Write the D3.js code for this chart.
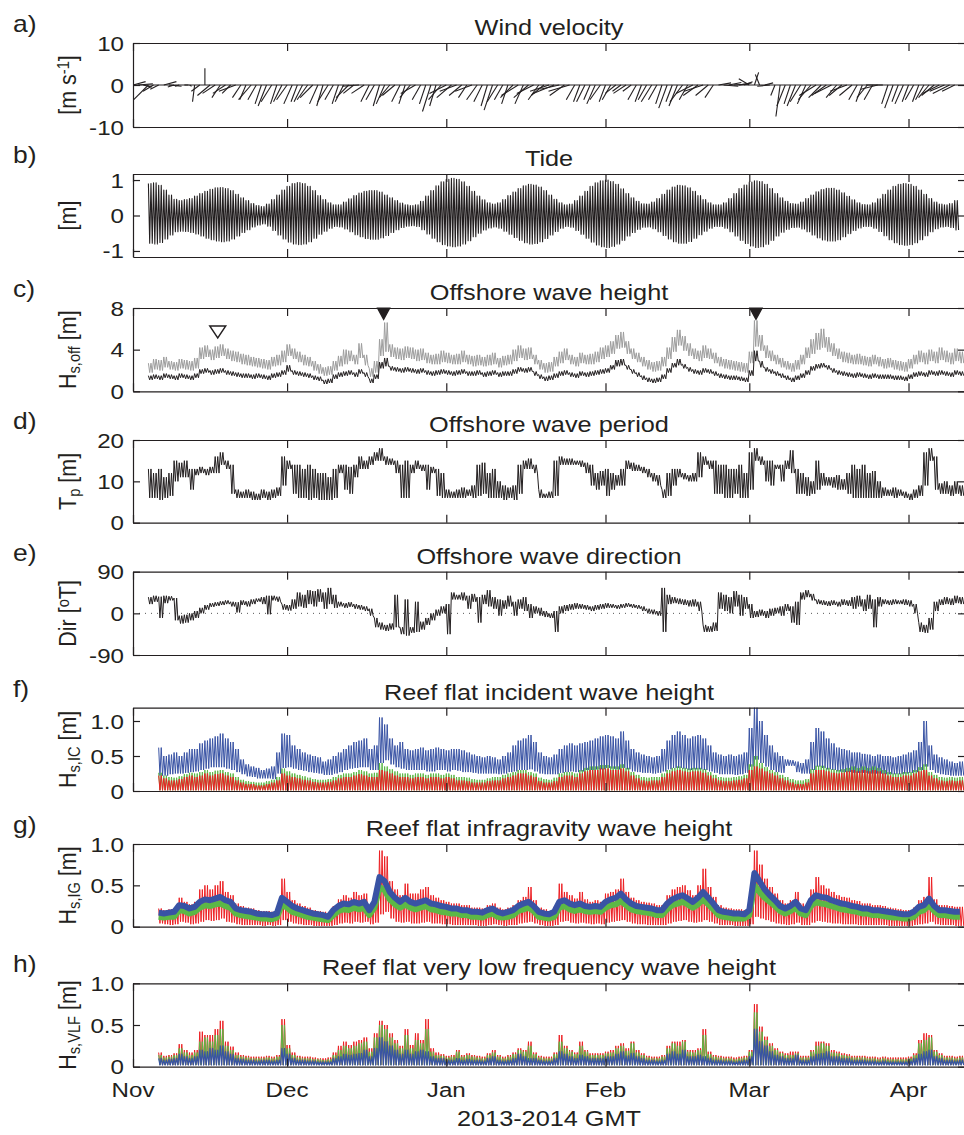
<!DOCTYPE html>
<html><head><meta charset="utf-8">
<script src="https://cdn.jsdelivr.net/npm/d3@7"></script>
<style>html,body{margin:0;padding:0;background:#fff}svg{display:block}</style>
</head><body><svg id="chart" width="964" height="1135"></svg>
<script>
// ---------------- DATA ----------------
// day index 0 = 1 Nov 2013 (GMT)
const monthLabels = ["Nov", "Dec", "Jan", "Feb", "Mar", "Apr"];
const monthStarts = ["2013-11-01", "2013-12-01", "2014-01-01", "2014-02-01", "2014-03-01", "2014-04-01"];
const panelLetters = ["a)", "b)", "c)", "d)", "e)", "f)", "g)", "h)"];
const panelTitles = ["Wind velocity", "Tide", "Offshore wave height", "Offshore wave period",
  "Offshore wave direction", "Reef flat incident wave height", "Reef flat infragravity wave height",
  "Reef flat very low frequency wave height"];
const yTicks = [[-10, 0, 10], [-1, 0, 1], [0, 4, 8], [0, 10, 20], [-90, 0, 90], [0, 0.5, 1.0], [0, 0.5, 1.0], [0, 0.5, 1.0]];
const yTickLabels = [["-10", "0", "10"], ["-1", "0", "1"], ["0", "4", "8"], ["0", "10", "20"], ["-90", "0", "90"],
  ["0", "0.5", "1.0"], ["0", "0.5", "1.0"], ["0", "0.5", "1.0"]];
const xTitle = "2013-2014 GMT";

// a) wind vectors, daily, from day 0 (m/s; u east, v north)
const windStart = 0;
const windU = [3,3.5,2,-3.5,-2.5,-2,3,3,-1.5,-1,
  1,0.5,-0.5,-2,0,-3,-3,-2,-3,-2,
  -4,-2,-1.5,-3,-2,-1.5,-2,-2.5,-1.5,-2,
  -2.5,-2,-1.5,-2,-2.5,-3,-2,-1.5,-2.5,-2,
  -1.5,-2,-3,-2.5,-4,-3,-2,-2,-1.5,-2,
  -2.5,-3,-2,-1.5,-2.5,-3.5,-2,-1.5,-2,-1.5,
  -3,-4,-3.5,-4,-3,-2,-4,-2.5,-2,-1.5,
  -2,-2.5,-2,-1.5,-3,-4,-2,-3.5,-4,-2.5,
  -3,-4.5,-5,-4.5,-3.5,-5,-2,-1.5,-2,-1.5,
  -2,-2.5,-1.5,-2,-2.5,-2,-3,-2,-2,-1.5,
  -2,-2.5,-2,-1.5,-2,-1.5,-2,-3,-2,-4,
  -3.5,-4.5,-3,-2,3,3.5,3,3.5,3,2,
  -2.5,1,-1,2,-3,-1,-1,-2,-1.5,-2,
  -2.5,-2,-3,-4,-3,-3.5,-4,-2.5,-3,-4,
  -3,-2,-1.5,-2.5,-2,-4,-4,-1.5,-2,-1.5,
  -2,-1.5,-2,-1.5,-2,-2.5,-3,-4,-3.5,-4,-3];
const windV = [0.8,0.3,-0.5,-3.5,-1.5,-1,0.8,-0.3,-0.5,-0.3,
  0,-0.3,-4,-1.5,4,-2.5,-2,-3,-2,-2,
  -1.5,-3,-3.5,-3.5,-3.5,-4.5,-5,-4,-4.5,-4,
  -3.5,-4.5,-4,-4,-3.5,-3,-4.5,-5,-4,-3.5,
  -4.5,-4,-3,-2,-0.3,-2,-4,-3.5,-5,-4.5,
  -3,-2.5,-4,-4.5,-3,-2,-3.5,-4.5,-6.3,-5,
  -3.5,-2,-3,-1.5,-2.5,-3,-1.5,-3.5,-4,-5,
  -6,-4,-3.5,-4.5,-3,-2.5,-4.5,-3,-2,-3.5,
  -2.5,-1.5,-2,-1,-2.5,-1.5,-3.5,-4,-4,-3.5,
  -4.5,-3.5,-4,-3.5,-2,-1.5,-2,-1.5,-3.5,-4,
  -3.5,-4,-3.5,-4.5,-5.5,-4,-5,-4,-3.5,-2,
  -2.5,-1.5,-2.5,-3,0.5,-0.3,0.6,0.2,0.5,0.8,
  1.5,3,2.5,0.5,-0.3,-2.5,-7.5,-5,-4.5,-5,
  -4,-4.5,-3.5,-2.5,-3,-2.5,-2,-3,-2.5,-1.5,
  -2.5,-3.5,-4,-3,-3.5,-1,0,-4.5,-5.5,-4,
  -4.5,-4,-3.5,-4,-3.5,-3,-2.5,-2,-1.5,-2,-1.5];

// b) tide: daily high / low water (m), from day 3
const tideStart = 3;
const tideHigh = [0.90,0.92,0.85,0.72,0.58,0.46,0.42,0.45,0.48,0.55,
  0.62,0.68,0.74,0.78,0.79,0.76,0.70,0.60,0.50,0.42,
  0.34,0.28,0.25,0.32,0.45,0.58,0.72,0.82,0.90,0.93,
  0.90,0.82,0.70,0.56,0.45,0.36,0.30,0.30,0.38,0.47,
  0.56,0.63,0.68,0.70,0.70,0.66,0.58,0.50,0.42,0.35,
  0.30,0.28,0.30,0.40,0.55,0.70,0.84,0.95,1.02,1.05,
  1.02,0.95,0.82,0.68,0.55,0.44,0.36,0.32,0.36,0.45,
  0.56,0.66,0.76,0.84,0.88,0.86,0.80,0.70,0.58,0.46,
  0.36,0.30,0.32,0.42,0.55,0.68,0.82,0.92,0.98,1.00,
  0.96,0.88,0.75,0.62,0.50,0.40,0.33,0.32,0.38,0.48,
  0.60,0.72,0.80,0.85,0.84,0.78,0.68,0.56,0.45,0.36,
  0.30,0.30,0.36,0.48,0.62,0.76,0.86,0.94,0.98,0.96,
  0.88,0.76,0.62,0.50,0.40,0.34,0.32,0.38,0.48,0.58,
  0.67,0.73,0.77,0.77,0.72,0.64,0.54,0.44,0.36,0.31,
  0.30,0.36,0.47,0.60,0.72,0.82,0.88,0.90,0.88,0.82,
  0.72,0.60,0.48,0.38,0.32,0.30,0.34,0.42];
const tideLow = [-0.78,-0.80,-0.76,-0.66,-0.55,-0.46,-0.44,-0.45,-0.48,-0.52,
  -0.58,-0.64,-0.68,-0.72,-0.74,-0.72,-0.66,-0.58,-0.48,-0.40,
  -0.32,-0.27,-0.24,-0.30,-0.42,-0.55,-0.66,-0.75,-0.80,-0.82,
  -0.80,-0.74,-0.64,-0.53,-0.44,-0.36,-0.31,-0.32,-0.38,-0.46,
  -0.54,-0.60,-0.65,-0.67,-0.67,-0.63,-0.56,-0.48,-0.40,-0.34,
  -0.30,-0.29,-0.31,-0.40,-0.52,-0.64,-0.74,-0.82,-0.86,-0.88,
  -0.86,-0.80,-0.71,-0.60,-0.50,-0.41,-0.35,-0.32,-0.36,-0.44,
  -0.53,-0.62,-0.70,-0.77,-0.80,-0.79,-0.74,-0.65,-0.55,-0.45,
  -0.36,-0.31,-0.33,-0.42,-0.53,-0.64,-0.75,-0.83,-0.88,-0.90,
  -0.87,-0.80,-0.70,-0.58,-0.48,-0.39,-0.33,-0.32,-0.37,-0.46,
  -0.56,-0.66,-0.74,-0.78,-0.78,-0.73,-0.64,-0.54,-0.44,-0.36,
  -0.31,-0.31,-0.36,-0.46,-0.58,-0.70,-0.79,-0.86,-0.90,-0.88,
  -0.81,-0.70,-0.58,-0.47,-0.39,-0.34,-0.33,-0.38,-0.46,-0.55,
  -0.63,-0.69,-0.72,-0.72,-0.68,-0.60,-0.51,-0.42,-0.35,-0.31,
  -0.31,-0.36,-0.45,-0.57,-0.68,-0.77,-0.82,-0.84,-0.82,-0.77,
  -0.68,-0.57,-0.46,-0.37,-0.32,-0.31,-0.34,-0.41];

// c) offshore wave height (m), daily high / low, from day 3
const offStart = 3;
const offGrayHigh = [2.7,3.1,3.0,3.3,2.9,2.8,3.1,3.0,2.9,3.2,
  4.2,4.4,4.0,4.3,4.5,4.1,3.9,3.8,3.6,3.5,
  3.3,3.2,3.1,3.0,3.3,3.5,3.9,4.5,4.1,3.8,
  3.5,3.3,2.9,2.6,2.3,2.4,2.9,3.4,4.0,3.9,
  3.5,4.6,3.5,2.2,2.9,5.0,6.6,4.5,4.2,4.1,
  4.3,4.2,4.0,4.1,3.7,3.5,3.6,3.9,3.7,3.5,
  3.6,3.9,3.5,3.4,3.5,3.3,3.5,3.7,3.2,3.4,
  3.5,4.0,4.4,4.1,4.2,3.5,3.0,2.7,2.8,3.3,
  3.8,4.1,3.5,3.3,3.7,3.5,3.6,3.8,4.2,4.4,
  4.8,5.4,5.7,4.8,4.1,3.7,3.3,3.0,2.8,2.9,
  3.3,4.2,5.2,5.9,5.3,4.6,4.1,3.9,4.4,4.1,
  3.7,3.3,3.1,3.0,2.9,2.8,2.7,3.8,6.8,5.4,
  4.4,3.9,3.5,3.2,2.9,2.7,3.0,3.5,4.2,5.0,
  5.6,6.0,5.2,4.6,4.1,3.8,3.7,3.5,3.6,3.4,
  3.3,3.5,3.3,3.1,3.2,3.0,2.9,2.8,3.1,3.5,
  3.9,3.7,4.0,3.8,4.2,3.9,3.7,4.1,3.8];
const offGrayLow = [1.8,2.1,2.0,2.3,2.1,2.0,2.2,2.1,2.0,2.2,
  3.1,3.3,3.0,3.2,3.4,3.1,2.9,2.8,2.6,2.5,
  2.4,2.3,2.2,2.1,2.4,2.5,2.8,3.4,3.1,2.8,
  2.5,2.4,2.0,1.7,1.5,1.6,2.0,2.4,2.6,2.9,
  2.6,3.2,2.5,1.4,1.8,3.4,3.8,3.3,3.1,3.0,
  3.2,3.1,2.9,3.0,2.7,2.6,2.6,2.8,2.7,2.6,
  2.6,2.8,2.6,2.4,2.5,2.4,2.5,2.6,2.3,2.5,
  2.6,2.9,3.2,3.0,3.1,2.6,2.1,1.8,1.9,2.4,
  2.7,3.0,2.6,2.4,2.7,2.6,2.6,2.8,3.1,3.3,
  3.6,4.1,4.2,3.6,3.1,2.8,2.4,2.1,1.9,2.0,
  2.4,3.1,3.8,4.4,3.9,3.4,3.1,2.9,3.2,3.1,
  2.7,2.4,2.2,2.1,2.0,1.9,1.8,2.7,4.3,3.9,
  3.2,2.9,2.6,2.3,2.1,1.9,2.1,2.6,3.2,3.6,
  4.0,4.2,3.8,3.4,3.1,2.8,2.7,2.6,2.6,2.5,
  2.4,2.6,2.4,2.2,2.3,2.1,2.0,1.9,2.2,2.6,
  2.8,2.6,2.9,2.7,3.0,2.8,2.6,2.9,2.7];
const offBlackHigh = [1.5,1.6,1.5,1.7,1.6,1.5,1.7,1.6,1.5,1.7,
  2.1,2.2,2.0,2.1,2.2,2.0,1.9,1.8,1.7,1.7,
  1.6,1.7,1.6,1.5,1.7,1.8,2.0,2.5,2.0,1.9,
  1.8,1.7,1.5,1.4,1.1,1.2,1.6,1.8,1.9,2.0,
  1.8,2.1,1.8,1.2,1.6,2.8,3.2,2.4,2.3,2.2,
  2.3,2.2,2.1,2.2,2.0,1.9,2.0,2.1,2.0,1.9,
  2.0,2.1,1.9,1.9,2.0,1.8,1.9,2.0,1.8,1.9,
  1.9,2.1,2.3,2.2,2.3,1.9,1.6,1.4,1.5,1.7,
  1.9,2.0,1.8,1.7,1.9,1.8,1.9,2.0,2.1,2.2,
  2.5,3.0,3.1,2.5,2.1,1.8,1.5,1.3,1.2,1.3,
  1.6,2.2,2.7,3.1,2.6,2.3,2.1,2.0,2.2,2.1,
  1.9,1.7,1.6,1.5,1.5,1.4,1.3,2.0,3.9,2.9,
  2.3,2.1,1.9,1.7,1.5,1.3,1.5,1.7,2.0,2.4,
  2.6,2.7,2.5,2.2,2.0,1.9,1.8,1.7,1.8,1.7,
  1.6,1.7,1.6,1.6,1.6,1.5,1.5,1.4,1.6,1.8,
  1.9,1.8,2.0,1.9,2.0,1.9,1.8,2.0,1.9];
const offBlackLow = [1.1,1.2,1.1,1.3,1.2,1.1,1.3,1.2,1.1,1.3,
  1.7,1.8,1.6,1.7,1.8,1.6,1.5,1.4,1.3,1.3,
  1.2,1.3,1.2,1.1,1.3,1.4,1.6,1.9,1.6,1.5,
  1.4,1.3,1.1,1.0,0.7,0.8,1.2,1.4,1.5,1.6,
  1.4,1.7,1.4,0.8,1.2,2.2,2.4,2.0,1.9,1.8,
  1.9,1.8,1.7,1.8,1.6,1.5,1.6,1.7,1.6,1.5,
  1.6,1.7,1.5,1.5,1.6,1.4,1.5,1.6,1.4,1.5,
  1.5,1.7,1.9,1.8,1.9,1.5,1.2,1.0,1.1,1.3,
  1.5,1.6,1.4,1.3,1.5,1.4,1.5,1.6,1.7,1.8,
  2.1,2.4,2.5,2.1,1.7,1.4,1.1,0.9,0.8,0.9,
  1.2,1.8,2.3,2.5,2.2,1.9,1.7,1.6,1.8,1.7,
  1.5,1.3,1.2,1.1,1.1,1.0,0.9,1.5,2.9,2.3,
  1.9,1.7,1.5,1.3,1.1,0.9,1.1,1.3,1.6,2.0,
  2.2,2.3,2.1,1.8,1.6,1.5,1.4,1.3,1.4,1.3,
  1.2,1.3,1.2,1.2,1.2,1.1,1.1,1.0,1.2,1.4,
  1.5,1.4,1.6,1.5,1.6,1.5,1.4,1.6,1.5];
const offMarkerDays = [16.5, 48.8, 121.3];
const offMarkerValues = [5.7, 7.45, 7.45];
const offMarkerFilled = [false, true, true];

// d) peak period (s), daily high / low, from day 3
const tpStart = 3;
const tpHigh = [13,12,13,11,12,15,14.5,15,13,13,
  13.5,13,13.5,16,17,15,14,8,7.5,8,
  7.5,7,8,7.5,8,8.5,16,15,14,14,
  13,14,13,12,12,11,13,14,14,13.5,
  14,16,15,16,17,18,16,15.5,15,14,
  15,14,15,14,14,13.5,13,12,8,7.5,
  8,8.5,8,9,14,14.5,12,13,10,9,
  8.5,9,14,15,15.5,14,8,7,7.5,15,
  16,15.5,15.5,15,15,14.5,14,12,12.5,13,
  12,11.5,13,15,14.5,14,13.5,13,12,11.5,
  8,12,13,13,12,11.5,12,17,16,15,
  15,14,14,13,13,14,12,17,18,16,
  15,15,14,14,15,17.5,13,12,11,10,
  15,12,11,11,11.5,10.5,12,14,13,14,
  12,12.5,10,8.5,8,8.5,8,7.5,7,8,
  9,17,18,16,9.5,10,9,10,9];
const tpLow = [6,6,5.5,6,6.5,10,11,11,8,11.5,
  12,11.5,12,12,14,13,7,6,6,6,
  5.5,5.5,6,5.5,6,6.5,9,13,7,6,
  6,5.5,6,5.5,5.5,5.5,6,12,8,7,
  11,13,13,14,15,15,14,14,12,6,
  6,12,13,12.5,8,12,6.5,6,6,6,
  6,6,6.5,6,6.5,7,6,6,6,5.5,
  6,5.5,7,13,13,12,6,6,6,6.5,
  14,14,14,14,13.5,12,9,8,9,6.5,
  8,9,9,13,12.5,12.5,12,11,10,9,
  6,6.5,9,11,10.5,10,10,11,14,13,
  7,7,6,6,7,6,6,8,15,14,
  10,9,13,10,13,12,7,7,6.5,7,
  8,9,9,8.5,8,8,7,6,6,6,
  6,6,6,6.5,6.5,6,6.5,6,5.5,6,
  6.5,9,15,8,7,7,6.5,7,6.5];

// e) peak direction (deg T), daily high / low, from day 3
const dirStart = 3;
const dirHigh = [35,38,36,38,37,33,-5,-3,0,5,
  12,18,22,24,26,28,25,24,28,26,
  30,32,35,38,38,36,20,18,30,45,
  40,50,48,52,45,55,40,25,22,24,
  20,18,15,10,-10,-20,-25,-22,40,-30,
  30,-30,25,-18,-10,0,8,15,20,45,
  40,45,38,42,35,40,50,35,30,28,
  38,25,30,35,20,15,12,5,0,5,
  15,18,20,22,20,18,15,18,20,22,
  20,18,20,22,20,18,15,10,8,5,
  55,40,35,32,30,28,30,25,-25,-28,
  -20,45,40,35,48,40,35,20,5,8,
  5,10,12,15,20,15,25,45,50,42,
  30,28,26,28,25,30,28,35,38,30,
  40,30,35,30,28,30,28,30,28,20,
  -20,-25,-10,25,30,35,32,38,35];
const dirLow = [20,25,-10,22,28,-15,-22,-20,-15,-10,
  0,8,14,16,18,20,15,2,18,15,
  20,25,20,-2,28,25,8,6,10,15,
  12,20,15,25,10,20,12,15,12,14,
  10,8,5,-5,-30,-35,-38,-35,-30,-45,
  -48,-42,-40,-35,-25,-15,-5,0,-45,30,
  30,28,10,25,-20,20,15,10,-5,10,
  15,-5,10,5,-10,0,-5,-8,-10,-40,
  0,5,8,10,10,8,5,8,10,12,
  12,10,12,14,12,10,5,0,-2,-5,
  -40,20,22,20,18,15,15,5,-40,-40,
  -38,10,5,0,15,-5,10,-10,-8,-5,
  -10,-5,0,-5,5,-20,-25,30,35,28,
  20,18,16,18,15,18,16,10,15,5,
  10,-30,15,20,18,20,20,18,15,0,
  -40,-42,-35,5,18,20,18,22,20];

// f) reef flat incident band (m), from day 5
const icStart = 5;
const icBlueHigh = [0.62,0.5,0.52,0.55,0.5,0.55,0.6,0.6,0.68,0.72,
  0.75,0.78,0.82,0.75,0.7,0.6,0.45,0.38,0.35,0.33,
  0.3,0.32,0.35,0.55,0.82,0.8,0.65,0.6,0.55,0.52,
  0.5,0.48,0.42,0.45,0.5,0.55,0.6,0.65,0.7,0.72,
  0.75,0.6,0.65,1.05,0.95,0.75,0.65,0.7,0.6,0.58,
  0.6,0.62,0.58,0.6,0.62,0.6,0.58,0.6,0.6,0.58,
  0.55,0.52,0.5,0.48,0.5,0.48,0.45,0.5,0.55,0.65,
  0.72,0.75,0.8,0.7,0.55,0.5,0.48,0.52,0.6,0.65,
  0.68,0.65,0.68,0.7,0.72,0.75,0.78,0.8,0.78,0.75,
  0.85,0.72,0.6,0.55,0.52,0.5,0.48,0.5,0.6,0.72,
  0.8,0.85,0.8,0.75,0.78,0.8,0.75,0.65,0.55,0.52,
  0.5,0.52,0.5,0.52,0.55,0.9,1.2,1.0,0.8,0.65,
  0.55,0.5,0.45,0.44,0.42,0.4,0.45,0.7,0.9,0.85,
  0.75,0.68,0.62,0.6,0.58,0.55,0.55,0.53,0.52,0.5,
  0.52,0.5,0.5,0.48,0.5,0.52,0.55,0.58,0.7,1.0,
  0.65,0.52,0.48,0.45,0.42,0.4,0.42];
const icBlueLow = [0.22,0.22,0.24,0.25,0.25,0.26,0.27,0.28,0.3,0.32,
  0.34,0.34,0.34,0.32,0.3,0.27,0.24,0.21,0.2,0.18,
  0.18,0.18,0.17,0.25,0.33,0.34,0.32,0.3,0.29,0.27,
  0.26,0.25,0.23,0.23,0.25,0.27,0.3,0.32,0.33,0.34,
  0.34,0.3,0.3,0.4,0.44,0.38,0.34,0.32,0.3,0.3,
  0.3,0.3,0.28,0.28,0.3,0.3,0.28,0.3,0.29,0.27,
  0.27,0.26,0.25,0.25,0.25,0.25,0.24,0.25,0.27,0.28,
  0.3,0.3,0.31,0.28,0.25,0.24,0.24,0.24,0.26,0.27,
  0.28,0.27,0.28,0.3,0.3,0.31,0.31,0.33,0.32,0.31,
  0.33,0.31,0.28,0.27,0.26,0.26,0.25,0.26,0.28,0.31,
  0.33,0.33,0.32,0.3,0.31,0.31,0.3,0.28,0.26,0.24,
  0.24,0.24,0.23,0.24,0.26,0.35,0.45,0.4,0.35,0.3,
  0.27,0.26,0.36,0.36,0.27,0.25,0.25,0.3,0.35,0.33,
  0.31,0.3,0.28,0.27,0.27,0.26,0.26,0.26,0.25,0.25,
  0.25,0.24,0.24,0.24,0.24,0.25,0.26,0.27,0.3,0.35,
  0.3,0.26,0.24,0.23,0.22,0.22,0.22];
const icGreenHigh = [0.26,0.22,0.2,0.19,0.21,0.24,0.26,0.25,0.27,0.3,
  0.27,0.29,0.3,0.27,0.25,0.2,0.16,0.14,0.13,0.12,
  0.12,0.14,0.16,0.2,0.32,0.28,0.25,0.23,0.21,0.19,
  0.17,0.16,0.16,0.17,0.2,0.23,0.25,0.25,0.27,0.3,
  0.28,0.25,0.26,0.4,0.35,0.31,0.28,0.25,0.25,0.23,
  0.25,0.25,0.23,0.25,0.25,0.23,0.25,0.23,0.2,0.2,
  0.19,0.17,0.16,0.16,0.18,0.2,0.2,0.23,0.25,0.27,
  0.3,0.3,0.27,0.25,0.19,0.17,0.16,0.19,0.25,0.27,
  0.27,0.25,0.3,0.33,0.35,0.35,0.37,0.37,0.35,0.35,
  0.38,0.33,0.27,0.23,0.2,0.19,0.2,0.2,0.25,0.3,
  0.33,0.35,0.33,0.32,0.33,0.33,0.31,0.27,0.23,0.2,
  0.19,0.19,0.2,0.21,0.23,0.38,0.5,0.4,0.34,0.3,
  0.27,0.23,0.2,0.17,0.15,0.15,0.17,0.31,0.36,0.36,
  0.33,0.31,0.3,0.31,0.33,0.35,0.33,0.35,0.33,0.35,
  0.33,0.3,0.27,0.25,0.25,0.27,0.27,0.3,0.34,0.38,
  0.27,0.23,0.2,0.19,0.2,0.19,0.2];
const icRedHigh = [0.22,0.18,0.15,0.15,0.17,0.2,0.22,0.2,0.22,0.25,
  0.22,0.24,0.25,0.22,0.2,0.15,0.12,0.1,0.1,0.08,
  0.08,0.1,0.12,0.15,0.25,0.22,0.2,0.18,0.16,0.15,
  0.13,0.12,0.12,0.13,0.15,0.18,0.2,0.2,0.22,0.24,
  0.22,0.2,0.2,0.3,0.28,0.25,0.22,0.2,0.2,0.18,
  0.2,0.2,0.18,0.2,0.2,0.18,0.2,0.18,0.15,0.15,
  0.14,0.12,0.12,0.12,0.14,0.15,0.15,0.18,0.2,0.22,
  0.25,0.25,0.22,0.2,0.14,0.12,0.12,0.14,0.2,0.22,
  0.22,0.2,0.25,0.28,0.3,0.3,0.32,0.32,0.3,0.3,
  0.32,0.28,0.22,0.18,0.15,0.14,0.15,0.15,0.2,0.25,
  0.28,0.3,0.28,0.27,0.28,0.28,0.26,0.22,0.18,0.15,
  0.14,0.14,0.15,0.16,0.18,0.3,0.35,0.32,0.28,0.25,
  0.22,0.18,0.15,0.12,0.1,0.1,0.12,0.25,0.3,0.3,
  0.28,0.26,0.25,0.26,0.28,0.3,0.28,0.3,0.28,0.3,
  0.28,0.25,0.22,0.2,0.2,0.22,0.22,0.25,0.28,0.3,
  0.22,0.18,0.15,0.14,0.15,0.14,0.15];
const icTrough = 0.01;

// g) reef flat infragravity band (m), from day 5
const igStart = 5;
const igBlue = [0.17,0.16,0.17,0.18,0.26,0.25,0.22,0.24,0.3,0.33,
  0.32,0.34,0.36,0.32,0.3,0.22,0.2,0.19,0.18,0.16,
  0.15,0.15,0.14,0.16,0.35,0.3,0.25,0.22,0.2,0.18,
  0.16,0.15,0.14,0.12,0.2,0.25,0.28,0.27,0.3,0.28,
  0.3,0.2,0.3,0.6,0.55,0.42,0.35,0.3,0.35,0.3,
  0.28,0.3,0.32,0.28,0.27,0.25,0.24,0.22,0.22,0.2,
  0.2,0.18,0.18,0.17,0.2,0.22,0.18,0.16,0.18,0.2,
  0.25,0.28,0.3,0.25,0.18,0.16,0.15,0.18,0.3,0.32,
  0.28,0.26,0.28,0.25,0.24,0.25,0.24,0.3,0.33,0.35,
  0.4,0.33,0.28,0.25,0.24,0.23,0.22,0.2,0.2,0.28,
  0.33,0.36,0.38,0.34,0.3,0.35,0.42,0.35,0.28,0.2,
  0.18,0.17,0.16,0.16,0.15,0.2,0.65,0.55,0.45,0.38,
  0.32,0.25,0.22,0.25,0.3,0.22,0.2,0.32,0.38,0.36,
  0.35,0.32,0.3,0.28,0.27,0.25,0.24,0.22,0.22,0.2,
  0.2,0.19,0.18,0.17,0.16,0.15,0.15,0.18,0.24,0.26,
  0.34,0.25,0.2,0.2,0.19,0.18,0.18];
const igGreen = [0.12,0.11,0.12,0.12,0.2,0.19,0.16,0.18,0.23,0.26,
  0.25,0.27,0.28,0.25,0.23,0.16,0.14,0.13,0.12,0.11,
  0.1,0.1,0.09,0.11,0.27,0.23,0.18,0.16,0.14,0.12,
  0.11,0.1,0.09,0.08,0.14,0.19,0.21,0.2,0.23,0.21,
  0.23,0.14,0.23,0.48,0.44,0.33,0.27,0.23,0.27,0.23,
  0.21,0.23,0.25,0.21,0.2,0.18,0.17,0.16,0.16,0.14,
  0.14,0.12,0.12,0.11,0.14,0.16,0.12,0.11,0.12,0.14,
  0.19,0.21,0.23,0.19,0.12,0.11,0.1,0.12,0.23,0.25,
  0.21,0.19,0.21,0.19,0.18,0.19,0.18,0.23,0.26,0.27,
  0.31,0.26,0.21,0.19,0.18,0.17,0.16,0.14,0.14,0.21,
  0.26,0.28,0.3,0.27,0.23,0.27,0.33,0.27,0.21,0.14,
  0.12,0.11,0.1,0.1,0.1,0.14,0.5,0.42,0.35,0.3,
  0.25,0.19,0.16,0.19,0.23,0.16,0.14,0.25,0.3,0.28,
  0.27,0.25,0.23,0.21,0.2,0.19,0.18,0.16,0.16,0.14,
  0.14,0.13,0.12,0.11,0.11,0.1,0.1,0.12,0.18,0.2,
  0.26,0.19,0.14,0.14,0.13,0.12,0.12];
const igRedHigh = [0.22,0.2,0.21,0.22,0.35,0.3,0.27,0.3,0.45,0.5,
  0.45,0.5,0.55,0.42,0.38,0.28,0.25,0.23,0.22,0.2,
  0.19,0.19,0.18,0.2,0.58,0.42,0.32,0.28,0.25,0.23,
  0.2,0.19,0.18,0.16,0.25,0.33,0.38,0.35,0.42,0.38,
  0.4,0.26,0.4,0.92,0.85,0.55,0.45,0.38,0.52,0.4,
  0.4,0.45,0.48,0.38,0.35,0.32,0.3,0.28,0.28,0.26,
  0.26,0.23,0.23,0.22,0.26,0.28,0.23,0.21,0.23,0.26,
  0.32,0.36,0.48,0.32,0.23,0.21,0.19,0.24,0.52,0.42,
  0.38,0.34,0.42,0.33,0.3,0.32,0.3,0.4,0.42,0.45,
  0.58,0.42,0.35,0.32,0.3,0.29,0.28,0.26,0.26,0.38,
  0.45,0.48,0.5,0.44,0.38,0.5,0.7,0.48,0.36,0.26,
  0.23,0.22,0.21,0.21,0.2,0.3,0.92,0.75,0.58,0.48,
  0.4,0.32,0.28,0.32,0.42,0.28,0.26,0.45,0.6,0.5,
  0.46,0.42,0.38,0.36,0.35,0.32,0.31,0.28,0.28,0.26,
  0.26,0.25,0.23,0.22,0.21,0.2,0.2,0.23,0.32,0.36,
  0.6,0.33,0.26,0.26,0.25,0.24,0.24];
const igRedLow = [0.04,0.03,0.02,0.03,0.06,0.05,0.03,0.04,0.06,0.08,
  0.07,0.08,0.1,0.06,0.05,0.03,0.02,0.02,0.02,0.02,
  0.01,0.02,0.01,0.02,0.08,0.06,0.04,0.03,0.02,0.02,
  0.01,0.01,0.01,0.01,0.02,0.04,0.05,0.04,0.06,0.05,
  0.06,0.03,0.05,0.15,0.18,0.1,0.06,0.05,0.06,0.04,
  0.04,0.05,0.06,0.04,0.04,0.03,0.03,0.02,0.02,0.02,
  0.02,0.02,0.01,0.01,0.02,0.03,0.02,0.01,0.02,0.02,
  0.04,0.05,0.06,0.04,0.02,0.01,0.01,0.02,0.06,0.07,
  0.05,0.04,0.05,0.04,0.03,0.04,0.03,0.05,0.06,0.07,
  0.08,0.06,0.04,0.03,0.03,0.02,0.02,0.02,0.02,0.04,
  0.06,0.07,0.08,0.06,0.05,0.06,0.08,0.06,0.04,0.02,
  0.02,0.02,0.01,0.01,0.01,0.03,0.12,0.1,0.08,0.06,
  0.04,0.03,0.02,0.03,0.05,0.02,0.02,0.05,0.07,0.06,
  0.05,0.04,0.04,0.03,0.03,0.03,0.02,0.02,0.02,0.02,
  0.02,0.02,0.01,0.01,0.01,0.01,0.01,0.02,0.03,0.04,
  0.06,0.03,0.02,0.02,0.02,0.01,0.01];

// h) reef flat very low frequency band (m), from day 5
const vlfStart = 5;
const vlfBlueHigh = [0.1,0.08,0.09,0.1,0.15,0.12,0.1,0.12,0.2,0.18,
  0.22,0.2,0.25,0.18,0.15,0.1,0.09,0.08,0.08,0.07,
  0.08,0.08,0.07,0.08,0.22,0.15,0.1,0.08,0.08,0.07,
  0.07,0.06,0.06,0.06,0.1,0.12,0.15,0.14,0.15,0.16,
  0.2,0.12,0.22,0.35,0.3,0.25,0.2,0.15,0.2,0.15,
  0.18,0.2,0.18,0.12,0.1,0.1,0.08,0.08,0.1,0.08,
  0.09,0.08,0.08,0.07,0.1,0.12,0.08,0.07,0.08,0.1,
  0.15,0.12,0.1,0.1,0.08,0.07,0.07,0.1,0.18,0.15,
  0.12,0.1,0.14,0.12,0.1,0.1,0.1,0.12,0.12,0.15,
  0.18,0.13,0.16,0.12,0.1,0.08,0.08,0.07,0.08,0.15,
  0.18,0.15,0.2,0.12,0.12,0.14,0.12,0.1,0.08,0.08,
  0.07,0.07,0.06,0.07,0.08,0.12,0.45,0.3,0.25,0.18,
  0.14,0.12,0.1,0.1,0.14,0.08,0.08,0.12,0.15,0.16,
  0.18,0.12,0.12,0.1,0.1,0.08,0.08,0.08,0.07,0.07,
  0.06,0.07,0.06,0.06,0.06,0.06,0.07,0.1,0.15,0.18,
  0.2,0.12,0.1,0.08,0.08,0.07,0.08];
const vlfGreenHigh = [0.14,0.11,0.12,0.14,0.22,0.17,0.14,0.17,0.3,0.35,
  0.3,0.38,0.45,0.25,0.2,0.14,0.12,0.11,0.1,0.1,
  0.1,0.11,0.1,0.12,0.5,0.22,0.14,0.11,0.1,0.1,
  0.09,0.09,0.08,0.09,0.14,0.2,0.25,0.22,0.25,0.28,
  0.3,0.18,0.35,0.5,0.45,0.35,0.28,0.22,0.38,0.22,
  0.32,0.28,0.45,0.18,0.14,0.13,0.11,0.12,0.18,0.12,
  0.14,0.12,0.11,0.1,0.14,0.17,0.12,0.1,0.12,0.15,
  0.2,0.18,0.25,0.15,0.11,0.1,0.1,0.15,0.3,0.22,
  0.18,0.15,0.25,0.18,0.14,0.14,0.14,0.16,0.17,0.22,
  0.25,0.19,0.28,0.17,0.14,0.11,0.1,0.1,0.12,0.22,
  0.28,0.25,0.3,0.18,0.17,0.2,0.38,0.15,0.12,0.11,
  0.1,0.1,0.09,0.1,0.11,0.18,0.65,0.42,0.32,0.25,
  0.2,0.16,0.14,0.14,0.16,0.11,0.11,0.18,0.25,0.28,
  0.25,0.17,0.16,0.14,0.13,0.11,0.11,0.11,0.1,0.1,
  0.09,0.1,0.09,0.09,0.09,0.09,0.1,0.14,0.28,0.32,
  0.35,0.18,0.14,0.11,0.11,0.1,0.11];
const vlfRedHigh = [0.17,0.13,0.14,0.16,0.27,0.2,0.17,0.2,0.42,0.38,
  0.38,0.45,0.55,0.3,0.24,0.17,0.14,0.13,0.12,0.12,
  0.12,0.13,0.12,0.14,0.57,0.26,0.17,0.13,0.12,0.12,
  0.11,0.1,0.1,0.11,0.17,0.25,0.3,0.26,0.3,0.32,
  0.35,0.22,0.4,0.55,0.5,0.4,0.32,0.25,0.45,0.26,
  0.4,0.32,0.57,0.22,0.17,0.15,0.13,0.14,0.2,0.14,
  0.16,0.14,0.13,0.12,0.16,0.2,0.14,0.12,0.14,0.17,
  0.22,0.2,0.3,0.17,0.13,0.12,0.12,0.17,0.38,0.25,
  0.2,0.17,0.3,0.2,0.16,0.16,0.16,0.18,0.2,0.25,
  0.28,0.22,0.3,0.2,0.16,0.13,0.12,0.12,0.14,0.25,
  0.3,0.3,0.32,0.2,0.2,0.22,0.45,0.18,0.14,0.13,
  0.12,0.12,0.11,0.12,0.13,0.2,0.75,0.48,0.36,0.28,
  0.22,0.18,0.16,0.18,0.18,0.13,0.13,0.2,0.3,0.3,
  0.28,0.2,0.18,0.16,0.15,0.13,0.13,0.13,0.12,0.12,
  0.11,0.12,0.11,0.11,0.11,0.11,0.12,0.16,0.32,0.4,
  0.38,0.2,0.16,0.13,0.13,0.12,0.13];
const vlfTrough = 0.02;

// ---------------- DRAWING ----------------
const INK = "#231f20", GRAY = "#9d9d9d", BLUE = "#3953a4", GREEN = "#5cb846", RED = "#ec2024";
const FONT = '"Liberation Sans", Arial, Helvetica, sans-serif';
const SX = 1.15; // horizontal stretch of the reference typography
const svg = d3.select("#chart");
svg.append("rect").attr("width", 964).attr("height", 1135).attr("fill", "#fff");

const X0 = 133, X1 = 965;
const t0 = Date.UTC(2013, 10, 1), t1 = Date.UTC(2014, 3, 12);
const x = d3.scaleUtc().domain([new Date(t0), new Date(t1)]).range([X0, X1]);
const dayDate = d => new Date(t0 + d * 864e5);
const months = monthStarts.map(s => new Date(s + "T00:00:00Z"));

const layout = [
  {top: 43, bottom: 127, domain: [-10, 10]},
  {top: 174, bottom: 257, domain: [-1.17, 1.17]},
  {top: 308, bottom: 391.3, domain: [0, 8]},
  {top: 440, bottom: 522.7, domain: [0, 20]},
  {top: 571.7, bottom: 655, domain: [-90, 90]},
  {top: 707.7, bottom: 791, domain: [0, 1.19]},
  {top: 844, bottom: 926.7, domain: [0, 1]},
  {top: 983.3, bottom: 1066.7, domain: [0, 1]}
];
const yLabels = [
  ["[m s", {t: "-1", sup: true}, "]"],
  ["[m]"],
  ["H", {t: "s,off", sub: true}, " [m]"],
  ["T", {t: "p", sub: true}, " [m]"],
  ["Dir [", {t: "o", sup: true}, "T]"],
  ["H", {t: "s,IC", sub: true}, " [m]"],
  ["H", {t: "s,IG", sub: true}, " [m]"],
  ["H", {t: "s,VLF", sub: true}, " [m]"]
];

function addText(parent, px, py, parts, size, anchor, rot) {
  const t = parent.append("text")
    .attr("transform", `translate(${px},${py}) scale(${SX},1)` + (rot ? " rotate(-90)" : ""))
    .attr("font-size", size).attr("font-family", FONT).attr("fill", INK)
    .attr("text-anchor", anchor);
  (typeof parts === "string" ? [parts] : parts).forEach(p => {
    if (typeof p === "string") t.append("tspan").text(p);
    else t.append("tspan").attr("font-size", size * 0.68)
      .attr("baseline-shift", p.sub ? "-25%" : "45%").text(p.t);
  });
  return t;
}

function zig(start, hi, lo, perDay) {
  const pts = [];
  hi.forEach((h, i) => {
    const l = Array.isArray(lo) ? lo[i] : lo;
    if (h == null || l == null) return;
    for (let k = 0; k < perDay; k++) pts.push([start + i + k / perDay, k % 2 === 0 ? h : l]);
  });
  return pts;
}
const seq = (start, arr) => arr.map((v, i) => [start + i, v]);

layout.forEach((L, i) => {
  L.y = d3.scaleLinear().domain(L.domain).range([L.bottom, L.top]);
  L.g = svg.append("g");
  L.g.append("clipPath").attr("id", "clip" + i).append("rect")
    .attr("x", X0).attr("y", L.top).attr("width", X1 - X0).attr("height", L.bottom - L.top);
  L.data = L.g.append("g").attr("clip-path", `url(#clip${i})`);
});

function path(L, pts, color, width) {
  L.data.append("path")
    .attr("d", d3.line().x(p => x(dayDate(p[0]))).y(p => L.y(p[1]))(pts))
    .attr("fill", "none").attr("stroke", color).attr("stroke-width", width)
    .attr("stroke-linejoin", "round");
}

// a) wind sticks
{
  const L = layout[0], y = L.y;
  const k = Math.abs(y(1) - y(0));
  L.data.append("line").attr("x1", X0).attr("x2", X1).attr("y1", y(0)).attr("y2", y(0))
    .attr("stroke", INK).attr("stroke-width", 1.2);
  L.data.selectAll("line.stick").data(windU.map((u, i) => ({d: windStart + i, u, v: windV[i]})))
    .enter().append("line").attr("class", "stick")
    .attr("x1", s => x(dayDate(s.d))).attr("y1", y(0))
    .attr("x2", s => x(dayDate(s.d)) + s.u * k).attr("y2", s => y(s.v))
    .attr("stroke", INK).attr("stroke-width", 1.1);
}
// b) tide
path(layout[1], zig(tideStart, tideHigh, tideLow, 4), INK, 1.1);
// c) offshore Hs
path(layout[2], zig(offStart, offGrayHigh, offGrayLow, 4), GRAY, 1);
path(layout[2], zig(offStart, offBlackHigh, offBlackLow, 4), INK, 1);
{
  const L = layout[2];
  offMarkerDays.forEach((d, i) => {
    const cx = x(dayDate(d)), cy = L.y(offMarkerValues[i]);
    const w = offMarkerFilled[i] ? 12 : 16, h = offMarkerFilled[i] ? 11 : 12;
    L.g.append("path")
      .attr("d", `M${cx - w / 2},${cy - h / 2}L${cx + w / 2},${cy - h / 2}L${cx},${cy + h / 2}Z`)
      .attr("fill", offMarkerFilled[i] ? INK : "#fff").attr("stroke", INK).attr("stroke-width", 1.4)
      .attr("stroke-linejoin", "miter");
  });
}
// d) Tp
path(layout[3], zig(tpStart, tpHigh, tpLow, 4), INK, 1);
// e) Dir
{
  const L = layout[4];
  L.data.append("line").attr("x1", X0).attr("x2", X1).attr("y1", L.y(0)).attr("y2", L.y(0))
    .attr("stroke", "#555").attr("stroke-width", 1).attr("stroke-dasharray", "1,5");
  path(L, zig(dirStart, dirHigh, dirLow, 4), INK, 1);
}
// f) incident
path(layout[5], zig(icStart, icBlueHigh, icBlueLow, 4), BLUE, 1);
path(layout[5], zig(icStart, icGreenHigh, icTrough, 4), GREEN, 1);
path(layout[5], zig(icStart, icRedHigh, icTrough, 4), RED, 1);
// g) infragravity
path(layout[6], zig(igStart, igRedHigh, igRedLow, 4), RED, 1);
path(layout[6], seq(igStart, igGreen), GREEN, 6);
path(layout[6], seq(igStart, igBlue), BLUE, 6);
// h) VLF
path(layout[7], zig(vlfStart, vlfRedHigh, vlfTrough, 4), RED, 1);
path(layout[7], zig(vlfStart, vlfGreenHigh, vlfTrough, 4), GREEN, 1);
path(layout[7], zig(vlfStart, vlfBlueHigh, vlfTrough, 4), BLUE, 1.2);

// axes, labels
layout.forEach((L, i) => {
  const g = L.g, y = L.y;
  const style = sel => { sel.attr("color", INK); sel.selectAll("path,line").attr("stroke-width", 1.2); };
  g.append("g").attr("transform", `translate(0,${L.bottom})`)
    .call(d3.axisBottom(x).tickValues(months).tickSizeInner(-8).tickSizeOuter(0).tickFormat("")).call(style);
  g.append("g").attr("transform", `translate(0,${L.top})`)
    .call(d3.axisTop(x).tickValues(months).tickSizeInner(-8).tickSizeOuter(0).tickFormat("")).call(style);
  g.append("g").attr("transform", `translate(${X0},0)`)
    .call(d3.axisLeft(y).tickValues(yTicks[i]).tickSizeInner(-7).tickSizeOuter(0).tickFormat("")).call(style);
  g.append("g").attr("transform", `translate(${X1},0)`)
    .call(d3.axisRight(y).tickValues(yTicks[i]).tickSizeInner(-7).tickSizeOuter(0).tickFormat("")).call(style);
  yTicks[i].forEach((v, j) => addText(g, 124, y(v) + 7.5, yTickLabels[i][j], 21, "end"));
  addText(g, 13, L.top - 11, panelLetters[i], 23, "start");
  addText(g, (X0 + X1) / 2, L.top - 8, panelTitles[i], 22, "middle");
  addText(g, 76, (L.top + L.bottom) / 2, yLabels[i], 21.5, "middle", true);
});
months.forEach((m, i) => addText(svg, x(m), 1097, monthLabels[i], 21, "middle"));
addText(svg, (X0 + X1) / 2, 1126, xTitle, 22, "middle");
</script></body></html>
